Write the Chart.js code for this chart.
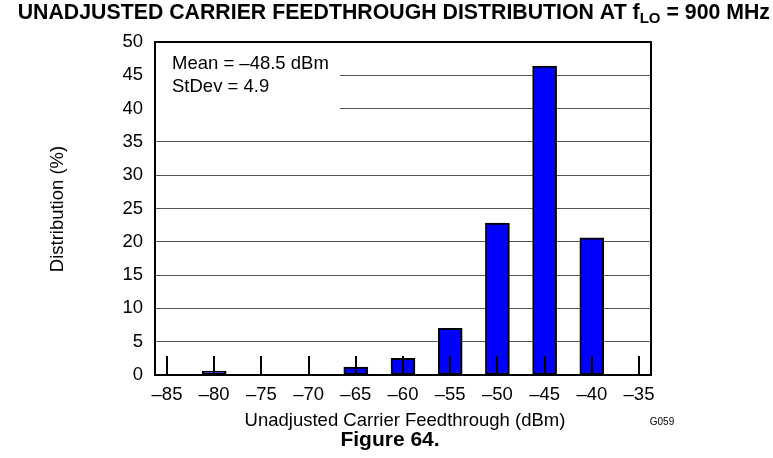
<!DOCTYPE html>
<html>
<head>
<meta charset="utf-8">
<script src="https://cdn.jsdelivr.net/npm/chart.js@4"></script>
<style>
  html, body { margin: 0; padding: 0; background: #fff; }
  #wrap { width: 773px; height: 458px; position: relative; }
</style>
</head>
<body>
<div id="wrap"><canvas id="chart" width="773" height="458"></canvas></div>
<script>
// --- Data ---
const bins = [-85, -80, -75, -70, -65, -60, -55, -50, -45, -40, -35];
const distribution = [0, 0.6, 0, 0, 1.2, 2.5, 7.0, 22.8, 46.4, 20.6, 0];
const xTicks = [-85, -80, -75, -70, -65, -60, -55, -50, -45, -40, -35];
const yTicks = [0, 5, 10, 15, 20, 25, 30, 35, 40, 45, 50];
const statsLines = ['Mean = \u201348.5 dBm', 'StDev = 4.9'];

const FONT = 'Arial, "Liberation Sans", sans-serif';
const dash = v => String(v).replace('-', '\u2013');

// --- Annotations drawn on the canvas ---
const decorations = {
  id: 'decorations',
  afterDatasetsDraw(chart) {
    const { ctx, chartArea: a, scales: { x, y } } = chart;
    ctx.save();

    // inside tick marks at each bin
    ctx.strokeStyle = '#000';
    ctx.lineWidth = 2;
    xTicks.forEach(v => {
      const px = Math.round(x.getPixelForValue(v));
      ctx.beginPath();
      ctx.moveTo(px, y.getPixelForValue(0));
      ctx.lineTo(px, y.getPixelForValue(2.85));
      ctx.stroke();
    });

    // stats box
    ctx.fillStyle = '#fff';
    ctx.fillRect(a.left + 1, a.top + 1, 184, 70);
    ctx.fillStyle = '#000';
    ctx.font = '18.5px ' + FONT;
    ctx.textBaseline = 'alphabetic';
    ctx.fillText(statsLines[0], 172, 69);
    ctx.fillText(statsLines[1], 172, 92);

    // frame
    ctx.lineWidth = 2;
    ctx.strokeRect(a.left, a.top, a.right - a.left, a.bottom - a.top);
    ctx.restore();
  },
  afterDraw(chart) {
    const { ctx } = chart;
    ctx.save();
    ctx.fillStyle = '#000';

    // title with subscript
    const t1 = 'UNADJUSTED CARRIER FEEDTHROUGH DISTRIBUTION AT f';
    const sub = 'LO';
    const t2 = ' = 900 MHz';
    ctx.font = 'bold 21.3px ' + FONT;
    const w1 = ctx.measureText(t1).width, w3 = ctx.measureText(t2).width;
    ctx.font = 'bold 15px ' + FONT;
    const w2 = ctx.measureText(sub).width;
    const sx = 770 - (w1 + w2 + w3);
    ctx.font = 'bold 21.3px ' + FONT;
    ctx.fillText(t1, sx, 19);
    ctx.font = 'bold 15px ' + FONT;
    ctx.fillText(sub, sx + w1, 23);
    ctx.font = 'bold 21.3px ' + FONT;
    ctx.fillText(t2, sx + w1 + w2, 19);

    // axis titles
    ctx.font = '18.5px ' + FONT;
    ctx.textAlign = 'center';
    ctx.fillText('Unadjusted Carrier Feedthrough (dBm)', 405, 426);
    ctx.save();
    ctx.translate(63, 209);
    ctx.rotate(-Math.PI / 2);
    ctx.fillText('Distribution (%)', 0, 0);
    ctx.restore();

    ctx.font = 'bold 21px ' + FONT;
    ctx.fillText('Figure 64.', 390, 446);

    ctx.font = '10px ' + FONT;
    ctx.fillText('G059', 662, 425);
    ctx.restore();
  }
};

new Chart(document.getElementById('chart'), {
  type: 'bar',
  data: {
    datasets: [{
      data: bins.map((b, i) => ({ x: b, y: distribution[i] > 0 ? distribution[i] : null })),
      backgroundColor: '#0000ff',
      borderColor: '#000',
      borderWidth: 2,
      borderSkipped: false,
      barThickness: 24
    }]
  },
  plugins: [decorations],
  options: {
    responsive: false,
    animation: false,
    events: [],
    layout: { padding: { top: 42, right: 122, left: 0, bottom: 0 } },
    plugins: { legend: { display: false }, tooltip: { enabled: false } },
    scales: {
      x: {
        type: 'linear',
        offset: false,
        min: -86.27,
        max: -33.73,
        afterBuildTicks: s => { s.ticks = xTicks.map(v => ({ value: v })); },
        afterFit: s => { s.height = 83; },
        grid: { display: false, drawTicks: false },
        border: { display: false },
        ticks: {
          color: '#000',
          font: { family: FONT, size: 18.5 },
          padding: 9,
          maxRotation: 0,
          callback: v => dash(v)
        }
      },
      y: {
        min: 0,
        max: 50,
        afterBuildTicks: s => { s.ticks = yTicks.map(v => ({ value: v })); },
        afterFit: s => { s.width = 155; },
        grid: { color: '#555', lineWidth: 1, drawTicks: false },
        border: { display: false },
        ticks: {
          color: '#000',
          font: { family: FONT, size: 18.5 },
          padding: 12
        }
      }
    }
  }
});
</script>
</body>
</html>
